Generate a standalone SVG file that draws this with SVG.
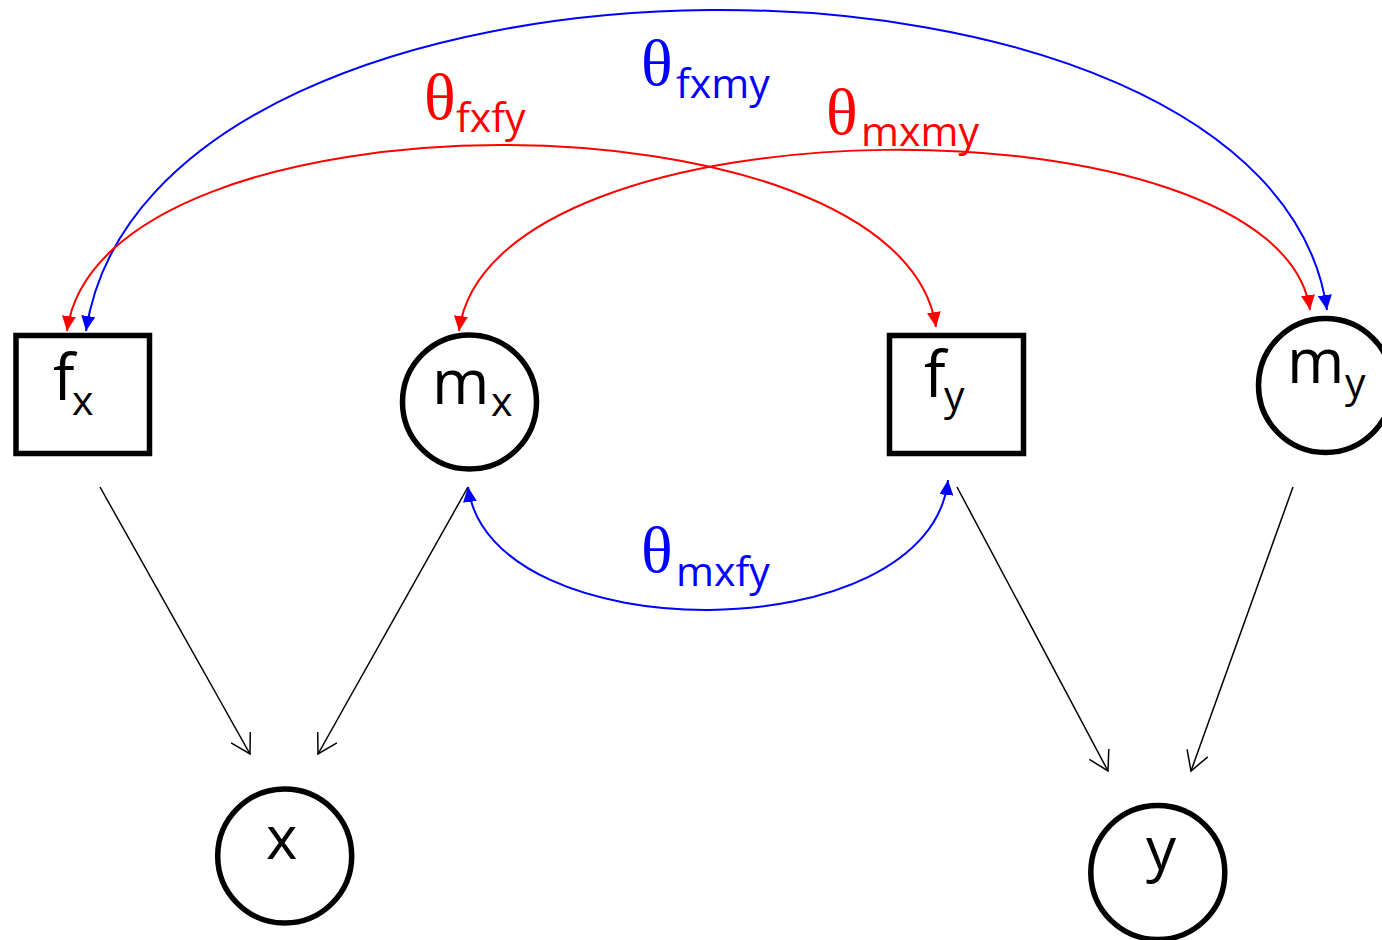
<svg xmlns="http://www.w3.org/2000/svg" width="1382" height="940" viewBox="0 0 1382 940">
<style>
.node{fill:#fff;stroke:#000;stroke-width:5.5}
.lbl{font-family:"Open Sans","Noto Sans",sans-serif;fill:#000}
.th{font-family:"Liberation Serif",serif}
.sub{font-family:"Open Sans","Noto Sans",sans-serif}
.red{fill:#ff0000}
.blue{fill:#0000ff}
.edge{fill:none;stroke:#000;stroke-width:1.5}
.cr{fill:none;stroke:#ff0000;stroke-width:2}
.cb{fill:none;stroke:#0000ff;stroke-width:2}
</style>
<defs>
<marker id="open" markerUnits="userSpaceOnUse" viewBox="0 0 22 24" markerWidth="22" markerHeight="24" refX="20" refY="12" orient="auto">
<path d="M1,1 L20,12 L1,23" fill="none" stroke="#000" stroke-width="1.5"/>
</marker>
<marker id="ar" markerUnits="userSpaceOnUse" viewBox="0 0 15 14" markerWidth="15" markerHeight="14" refX="15" refY="7" orient="auto-start-reverse">
<path d="M0,0 L15,7 L0,14 z" fill="#ff0000"/>
</marker>
<marker id="ab" markerUnits="userSpaceOnUse" viewBox="0 0 15 14" markerWidth="15" markerHeight="14" refX="15" refY="7" orient="auto-start-reverse">
<path d="M0,0 L15,7 L0,14 z" fill="#0000ff"/>
</marker>
</defs>
<rect width="1382" height="940" fill="#fff"/>
<g id="connectors">
<line class="edge" x1="100" y1="487" x2="250" y2="754" marker-end="url(#open)"/>
<line class="edge" x1="468" y1="487" x2="318" y2="754" marker-end="url(#open)"/>
<line class="edge" x1="957" y1="487" x2="1108" y2="771" marker-end="url(#open)"/>
<line class="edge" x1="1293" y1="487" x2="1191" y2="771" marker-end="url(#open)"/>
<path class="cb" d="M86,331 C150,-93.5 1270,-93.5 1327,310" marker-start="url(#ab)" marker-end="url(#ab)"/>
<path class="cr" d="M67,331 C100,83.7 900,83.7 936,327" marker-start="url(#ar)" marker-end="url(#ar)"/>
<path class="cr" d="M459,331 C490,93 1280,93 1310,310" marker-start="url(#ar)" marker-end="url(#ar)"/>
<path class="cb" d="M468,487 C490,652 930,652 948,480" marker-start="url(#ab)" marker-end="url(#ab)"/>
<text class="red"><tspan class="th" x="424" y="119" font-size="66">θ</tspan><tspan class="sub" x="456" y="132" font-size="41">fxfy</tspan></text>
<text class="blue"><tspan class="th" x="641" y="85" font-size="66">θ</tspan><tspan class="sub" x="676" y="98" font-size="41">fxmy</tspan></text>
<text class="red"><tspan class="th" x="826" y="134" font-size="66">θ</tspan><tspan class="sub" x="861" y="146" font-size="41">mxmy</tspan></text>
<text class="blue"><tspan class="th" x="641" y="572" font-size="66">θ</tspan><tspan class="sub" x="676" y="586" font-size="41">mxfy</tspan></text>
</g>
<g id="node-fx">
<rect class="node" x="16" y="335.5" width="133.5" height="118"/>
<text class="lbl"><tspan x="53" y="400" font-size="64">f</tspan><tspan x="72" y="415" font-size="41">x</tspan></text>
</g>
<g id="node-mx">
<circle class="node" cx="469.5" cy="402" r="67"/>
<text class="lbl"><tspan x="432" y="404" font-size="62">m</tspan><tspan x="491" y="416" font-size="41">x</tspan></text>
</g>
<g id="node-fy">
<rect class="node" x="889.5" y="335.5" width="134" height="118"/>
<text class="lbl"><tspan x="924" y="397" font-size="64">f</tspan><tspan x="944" y="410" font-size="41">y</tspan></text>
</g>
<g id="node-my">
<circle class="node" cx="1325.5" cy="385.5" r="67"/>
<text class="lbl"><tspan x="1287" y="383" font-size="62">m</tspan><tspan x="1345" y="397" font-size="41">y</tspan></text>
</g>
<g id="node-x">
<circle class="node" cx="284.7" cy="856" r="67"/>
<text class="lbl" x="266" y="859" font-size="60">x</text>
</g>
<g id="node-y">
<circle class="node" cx="1157.8" cy="872.5" r="67"/>
<text class="lbl" x="1146" y="870" font-size="60">y</text>
</g>
</svg>
